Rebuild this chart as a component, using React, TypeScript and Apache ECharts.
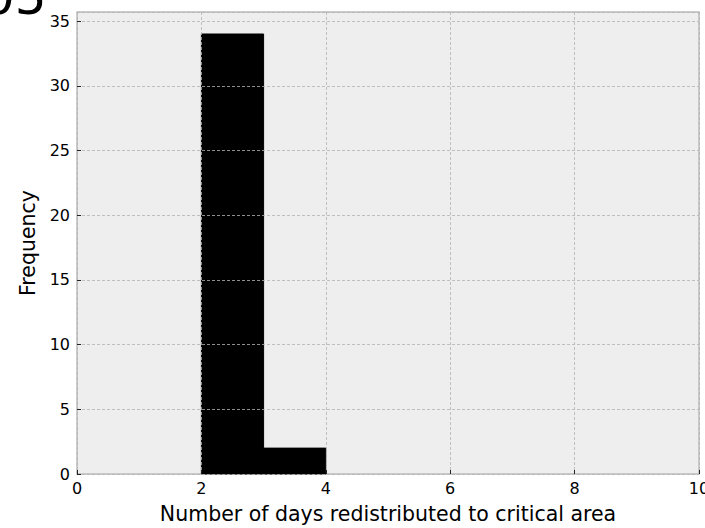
import React, { useEffect, useRef } from "react";
import * as echarts from "echarts";

const binEdges = [2, 3, 4];
const counts = [34, 2];
const xTicks = [0, 2, 4, 6, 8, 10];
const yTicks = [0, 5, 10, 15, 20, 25, 30, 35];
const xLabel = "Number of days redistributed to critical area";
const yLabel = "Frequency";
const cutTitle = "05";

export default function App() {
  const ref = useRef<HTMLDivElement>(null);
  useEffect(() => {
    if (!ref.current) return;
    const chart = echarts.init(ref.current, null, { renderer: "svg" });
    const bars = counts.map((c, i) => [binEdges[i], binEdges[i + 1], c]);
    const font = "DejaVu Sans";
    chart.setOption({
      animation: false,
      textStyle: { fontFamily: font },
      grid: {
        left: 77,
        right: 6,
        top: 12,
        bottom: 54,
        outerBoundsMode: "none",
        containLabel: false,
        show: true,
        backgroundColor: "#eeeeee",
        borderColor: "#bcbcbc",
        borderWidth: 1.5,
      },
      graphic: [
        {
          type: "text",
          left: -17,
          top: -28,
          style: { text: cutTitle, font: `50px ${font}`, fill: "#000" },
        },
      ],
      xAxis: {
        type: "value",
        min: xTicks[0],
        max: xTicks[xTicks.length - 1],
        interval: 2,
        z: 5,
        name: xLabel,
        nameLocation: "middle",
        nameGap: 29,
        nameTextStyle: { fontSize: 20.5, color: "#000", fontFamily: font },
        axisLine: { show: false },
        axisTick: { show: true, inside: true, length: 4, lineStyle: { color: "#222", width: 1 } },
        axisLabel: { fontSize: 16, color: "#000", margin: 6, fontFamily: font, showMaxLabel: true, showMinLabel: true },
        splitLine: { show: true, lineStyle: { color: "#b2b2b2", type: [3, 2], width: 0.8 } },
      },
      yAxis: {
        type: "value",
        min: 0,
        max: 35.7,
        interval: 5,
        z: 5,
        name: yLabel,
        nameLocation: "middle",
        nameGap: 37,
        nameTextStyle: { fontSize: 20.5, color: "#000", fontFamily: font },
        axisLine: { show: false },
        axisTick: { show: true, inside: true, length: 4, lineStyle: { color: "#222", width: 1 } },
        axisLabel: {
          fontSize: 16,
          color: "#000",
          margin: 7,
          fontFamily: font,
          showMaxLabel: false,
          formatter: (v: number) => (yTicks.includes(v) ? String(v) : ""),
        },
        splitLine: { show: true, lineStyle: { color: "#b2b2b2", type: [3, 2], width: 0.8 } },
      },
      series: [
        {
          type: "custom",
          z: 2,
          data: bars,
          encode: { x: [0, 1], y: 2 },
          renderItem: (params: any, api: any) => {
            const p0 = api.coord([api.value(0), api.value(2)]);
            const p1 = api.coord([api.value(1), 0]);
            return {
              type: "rect",
              shape: { x: p0[0], y: p0[1], width: p1[0] - p0[0], height: p1[1] - p0[1] },
              style: { fill: "#000", stroke: "#000", lineWidth: 1 },
            };
          },
        },
      ],
    });
    return () => chart.dispose();
  }, []);
  return <div ref={ref} style={{ width: 705, height: 528, position: "absolute", left: 0, top: 0 }} />;
}
